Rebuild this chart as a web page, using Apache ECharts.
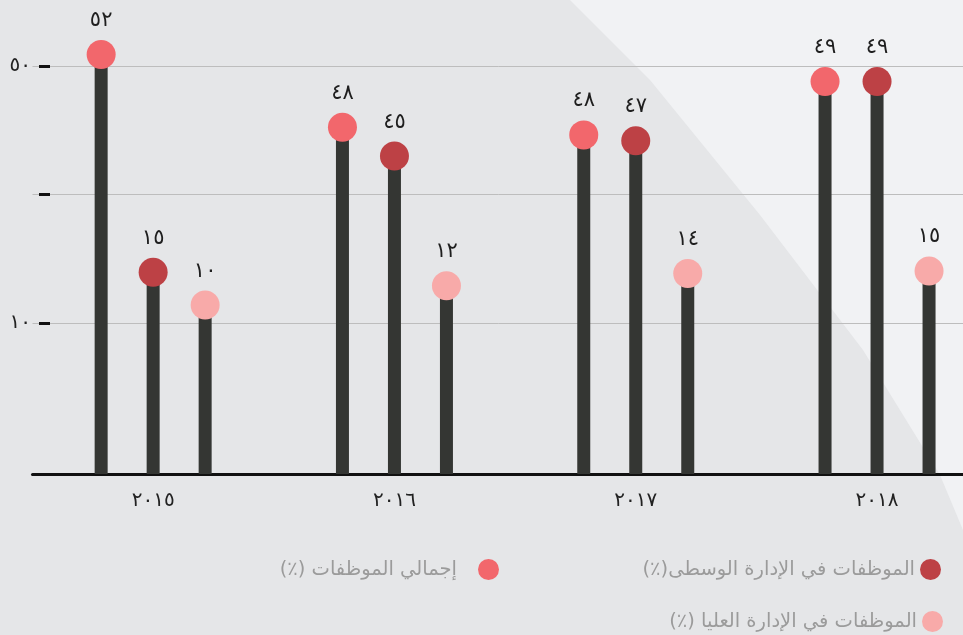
<!DOCTYPE html>
<html>
<head>
<meta charset="utf-8">
<script src="https://cdn.jsdelivr.net/npm/echarts@6/dist/echarts.min.js"></script>
<style>
  html, body { margin: 0; padding: 0; background: #e5e6e8; }
  #chart { width: 963px; height: 635px; }
</style>
</head>
<body>
<div id="chart"></div>
<script>
// years on the x axis
const years = [2015, 2016, 2017, 2018]

// numbers written above each dot
const totalLabels = [52, 48, 48, 49]
const middleLabels = [15, 45, 47, 49]
const seniorLabels = [10, 12, 14, 15]

// heights of the dots on the chart's own scale
const totalValues = [51.8, 40.5, 39.3, 47.6]
const middleValues = [17.9, 36.0, 38.4, 47.6]
const seniorValues = [12.8, 15.8, 17.7, 18.1]

// y axis
const yTicks = [10, 30, 50]
const yLabels = [10, 50]
const yMin = -13.5
const yMax = 60.3

const names = {
  total: 'إجمالي الموظفات (٪)\u200F',
  middle: 'الموظفات في الإدارة الوسطى(٪)\u200F',
  senior: 'الموظفات في الإدارة العليا (٪)\u200F'
}

const colors = { total: '#f2676c', middle: '#bd4145', senior: '#f8aaa9' }
const stemColor = '#343633'
const font = 'DejaVu Sans'

const toArabic = (n) => String(n).replace(/\d/g, (d) => '٠١٢٣٤٥٦٧٨٩'[d])

const chart = echarts.init(document.getElementById('chart'))

const stem = (values) => ({
  type: 'bar',
  data: values,
  barWidth: 13,
  barGap: '300%',
  itemStyle: { color: stemColor },
  silent: true,
  z: 2
})

const dot = (key, values, labels, offset) => ({
  type: 'scatter',
  name: names[key],
  data: values,
  symbol: 'circle',
  symbolSize: 29,
  symbolOffset: [offset, 0],
  itemStyle: { color: colors[key], opacity: 1 },
  label: {
    show: true,
    position: 'top',
    distance: 9,
    color: '#1e1e1e',
    fontSize: 21,
    fontFamily: font,
    formatter: (p) => toArabic(labels[p.dataIndex])
  },
  z: 5
})

const legend = (key, right, top, pad) => ({
  data: [names[key]],
  right: right,
  top: top,
  align: 'right',
  orient: 'horizontal',
  icon: 'circle',
  itemWidth: 21,
  itemHeight: 21,
  selectedMode: false,
  textStyle: { color: '#9b9b9b', fontSize: 19.5, fontFamily: font, padding: [0, pad, 0, 0] }
})

chart.setOption({
  backgroundColor: '#e5e6e8',
  animation: false,
  graphic: [
    {
      type: 'polygon',
      z: -10,
      silent: true,
      shape: {
        points: [[570, 0], [650, 80], [760, 215], [863, 350], [940, 475], [963, 530], [963, 0]]
      },
      style: { fill: '#f1f2f4' }
    }
  ],
  legend: [
    legend('middle', 17, 554, 0),
    legend('total', 459, 554, 16),
    legend('senior', 15, 606, 0)
  ],
  grid: { left: 32.5, width: 965.2, top: 0, height: 474, outerBoundsMode: 'none', containLabel: false },
  xAxis: {
    type: 'category',
    data: years.map(toArabic),
    axisLine: { onZero: false, lineStyle: { color: '#111', width: 3 } },
    axisTick: { show: false },
    axisLabel: { color: '#222', fontSize: 20, fontFamily: font, margin: 17 }
  },
  yAxis: {
    type: 'value',
    min: yMin,
    max: yMax,
    startValue: yMin,
    offset: -17.5,
    axisLine: { show: false },
    axisTick: { show: true, customValues: yTicks, length: 11, lineStyle: { color: '#111', width: 3 } },
    axisLabel: { customValues: yLabels, color: '#222', fontSize: 20, fontFamily: font, margin: 19, formatter: (v) => toArabic(v) },
    splitLine: { show: true, lineStyle: { color: '#bdbdbd', width: 1 } }
  },
  series: [
    stem(totalValues),
    stem(middleValues),
    stem(seniorValues),
    dot('total', totalValues, totalLabels, -52),
    dot('middle', middleValues, middleLabels, 0),
    dot('senior', seniorValues, seniorLabels, 52)
  ]
})
</script>
</body>
</html>
